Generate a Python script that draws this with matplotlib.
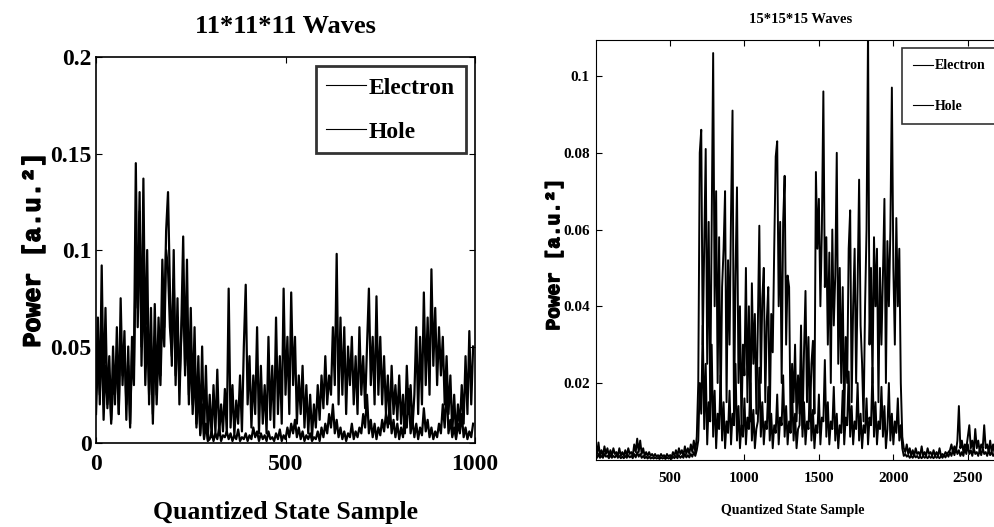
import numpy as np
import matplotlib
matplotlib.use("Agg")
import matplotlib.pyplot as plt
import matplotlib.patheffects as pe

# ---- left panel: 11*11*11 waves, one value every 5 samples (units of 1e-3 a.u.^2)
left_step = 5
left_electron = [
    30, 65, 20, 92, 25, 70, 18, 45, 12, 50, 20, 60, 15, 75, 30, 58, 12, 50, 8, 55,
    40, 145, 60, 120, 50, 137, 45, 100, 20, 70, 15, 72, 25, 65, 35, 95, 60, 110, 130, 80,
    40, 100, 30, 75, 20, 60, 107, 40, 95, 25, 70, 20, 60, 10, 45, 5, 50, 3, 40, 2,
    25, 3, 30, 5, 38, 4, 20, 6, 28, 5, 80, 8, 30, 4, 22, 10, 35, 6, 50, 82,
    20, 45, 8, 35, 15, 60, 5, 40, 10, 30, 5, 55, 12, 40, 8, 65, 15, 45, 10, 80,
    25, 55, 15, 78, 30, 55, 10, 35, 15, 40, 8, 30, 5, 25, 3, 20, 8, 30, 12, 35,
    18, 45, 20, 35, 25, 60, 30, 98, 20, 65, 25, 60, 15, 50, 30, 55, 20, 45, 15, 60,
    25, 45, 18, 50, 80, 30, 55, 20, 76, 25, 55, 20, 45, 15, 35, 10, 40, 15, 30, 12,
    35, 10, 25, 5, 40, 15, 30, 8, 25, 60, 15, 55, 20, 78, 30, 65, 25, 90, 40, 70,
    30, 60, 35, 55, 20, 45, 15, 35, 5, 25, 3, 20, 8, 30, 10, 45, 15, 58, 20, 50,
]
left_hole = [
    15, 45, 25, 55, 12, 40, 20, 35, 10, 30, 25, 45, 15, 55, 35, 50, 20, 40, 10, 48,
    30, 100, 70, 130, 40, 90, 30, 60, 25, 50, 10, 55, 20, 50, 30, 70, 50, 100, 90, 60,
    45, 85, 35, 65, 30, 55, 80, 35, 65, 20, 50, 15, 40, 8, 30, 4, 20, 2, 10, 1,
    2, 6, 1, 5, 2, 8, 1, 4, 3, 6, 2, 5, 1, 4, 2, 7, 1, 3, 2, 5,
    1, 4, 2, 8, 3, 6, 1, 5, 2, 4, 1, 6, 2, 3, 1, 5, 2, 7, 1, 4,
    2, 8, 3, 10, 5, 12, 3, 8, 2, 6, 1, 4, 2, 5, 1, 3, 2, 6, 1, 8,
    3, 10, 5, 15, 8, 20, 5, 12, 3, 8, 2, 6, 1, 5, 3, 10, 2, 6, 3, 8,
    5, 15, 8, 25, 5, 12, 3, 10, 2, 8, 4, 12, 6, 15, 8, 20, 5, 12, 3, 10,
    2, 8, 3, 15, 8, 28, 5, 12, 3, 10, 2, 8, 4, 18, 6, 12, 3, 8, 2, 6,
    3, 10, 5, 20, 8, 30, 5, 12, 3, 8, 2, 10, 5, 15, 3, 8, 2, 6, 3, 10,
]

# ---- right panel: 15*15*15 waves, one value every 10 samples, in three stretches
right_step = 10
lead_start, burst_start, tail_start = 0, 690, 2060
electron_lead = [
    3, 1.5, 4.5, 1, 2.5, 1, 3.5, 1.5, 3, 1, 2.5, 1, 3, 1.5, 2, 1, 3, 1, 2, 1,
    2.5, 1, 3, 1.5, 2, 1, 4, 2, 5.5, 2, 5, 1.5, 3, 1, 2, 1, 2, 1, 1.5, 0.8,
    1.5, 0.8, 1.2, 0.7, 1.5, 0.8, 1.2, 0.6, 1.5, 0.8, 1.2, 0.6, 2, 1, 2.5, 1, 3, 1.5, 2.5, 1,
    3.5, 1.5, 3, 1.5, 4, 2, 5, 2, 6,
]
electron_burst = [
    20, 80, 86, 30, 55, 81, 25, 62, 15, 60, 106, 40, 70, 20, 58, 12, 45, 55, 70, 15,
    52, 30, 64, 91, 10, 48, 71, 20, 40, 8, 30, 22, 50, 15, 40, 10, 46, 25, 38, 12,
    35, 61, 20, 42, 50, 15, 36, 45, 10, 38, 28, 55, 79, 83, 40, 62, 20, 62, 74, 30,
    48, 45, 8, 25, 15, 30, 10, 22, 12, 35, 8, 28, 44, 15, 32, 10, 25, 31, 12, 75,
    55, 68, 40, 60, 96, 45, 58, 30, 54, 20, 60, 35, 48, 80, 25, 50, 20, 45, 10, 32,
    20, 55, 65, 15, 40, 55, 20, 45, 73, 35, 25, 10, 40, 60, 112, 30, 50, 20, 58, 40,
    55, 15, 50, 30, 48, 68, 20, 57, 40, 60, 97, 50, 30, 63, 40, 55, 20,
]
electron_tail = [
    6, 3, 2, 4, 1.5, 3, 1, 2.5, 1, 3, 1.5, 2, 1, 3.5, 1, 2, 1, 3, 1.5, 2,
    1, 2.5, 1, 2, 1, 3, 1, 1.5, 1, 2, 1.5, 2, 2.5, 4, 2, 3.5, 2, 5, 14, 3,
    5, 2, 4, 3, 6, 9, 3, 5, 2, 8, 3, 5, 2, 4, 3, 9, 3, 4, 2, 5,
    2, 4, 1.5, 3, 2, 4, 2, 3, 2, 3,
]
hole_lead = [
    1, 0.5, 1.5, 0.5, 1, 0.5, 1.5, 0.8, 1, 0.4, 1.2, 0.5, 1, 0.6, 1.3, 0.5, 1, 0.4, 0.8, 0.4,
    1, 0.5, 1.2, 0.6, 1, 0.4, 1.5, 0.6, 2, 0.8, 1.5, 0.5, 1, 0.4, 0.8, 0.3, 0.8, 0.3, 0.6, 0.3,
    0.6, 0.3, 0.5, 0.2, 0.6, 0.3, 0.5, 0.2, 0.6, 0.3, 0.5, 0.2, 0.8, 0.4, 1, 0.4, 1.2, 0.5, 1, 0.5,
    1.5, 0.6, 1.2, 0.6, 1.5, 0.8, 2, 1, 2.5,
]
hole_burst = [
    5, 20, 12, 35, 8, 25, 4, 15, 10, 30, 6, 18, 3, 12, 8, 22, 5, 15, 3, 10,
    7, 18, 4, 12, 9, 25, 5, 14, 3, 9, 6, 16, 4, 11, 8, 20, 5, 13, 3, 8,
    10, 24, 6, 15, 4, 10, 8, 19, 5, 12, 3, 9, 7, 17, 4, 11, 9, 22, 6, 14,
    4, 10, 7, 18, 5, 12, 3, 8, 9, 21, 6, 15, 4, 10, 8, 20, 5, 13, 3, 9,
    7, 17, 4, 11, 10, 26, 6, 15, 4, 10, 8, 19, 5, 12, 3, 9, 7, 18, 4, 11,
    9, 23, 6, 14, 4, 10, 8, 20, 5, 12, 3, 9, 7, 16, 4, 11, 9, 24, 6, 15,
    4, 10, 8, 19, 6, 14, 3, 8, 20, 5, 12, 4, 10, 7, 16, 5, 9,
]
hole_tail = [
    3, 1, 1.5, 0.8, 1.2, 0.5, 1, 0.5, 1.2, 0.6, 1, 0.4, 0.8, 0.4, 1, 0.5, 0.8, 0.4, 1, 0.5,
    0.8, 0.4, 1, 0.5, 0.8, 0.4, 1, 0.5, 1.2, 0.6, 1.5, 0.8, 2, 1, 2.5, 1.2, 3, 1.5, 2.5, 1,
    2, 1, 3, 1.5, 4, 1.5, 2.5, 1, 3, 1.5, 2, 1, 2.5, 1.2, 3, 1.5, 2, 1, 2.5, 1.2,
    2, 1, 1.5, 0.8, 2, 1, 1.5, 0.8, 2, 1,
]


def stretch(start, vals, step):
    return start + np.arange(len(vals)) * step, np.array(vals) * 1e-3


def join(lead, burst, tail):
    parts = [stretch(lead_start, lead, right_step),
             stretch(burst_start, burst, right_step),
             stretch(tail_start, tail, right_step)]
    return np.concatenate([p[0] for p in parts]), np.concatenate([p[1] for p in parts])


plt.rcParams["font.family"] = "Liberation Serif"
plt.rcParams["font.weight"] = "bold"

heavy = [pe.withStroke(linewidth=1.0, foreground="black")]

fig = plt.figure(figsize=(9.95, 5.27), dpi=100)

# left axes
ax1 = fig.add_axes([0.0965, 0.1594, 0.3809, 0.7324])
ax1.plot(np.arange(len(left_electron)) * left_step, np.array(left_electron) * 1e-3,
         color="black", lw=1.6, label="Electron")
ax1.plot(np.arange(len(left_hole)) * left_step, np.array(left_hole) * 1e-3,
         color="black", lw=1.6, label="Hole")
ax1.set_xlim(0, 1000)
ax1.set_ylim(0, 0.2)
ax1.set_xticks([0, 500, 1000])
ax1.set_yticks([0, 0.05, 0.1, 0.15, 0.2])
ax1.set_yticklabels(["0", "0.05", "0.1", "0.15", "0.2"])
ax1.tick_params(direction="in", top=True, right=True, labelsize=17, length=4, pad=3)
ax1.tick_params(axis="x", pad=8)
for s in ax1.spines.values():
    s.set_linewidth(1.2)
ax1.set_title("11*11*11 Waves", fontsize=19, fontweight="bold", pad=17)
ax1.set_xlabel("Quantized State Sample", fontsize=18.5, fontweight="bold")
ax1.xaxis.set_label_coords(0.5, -0.15)
ax1.set_ylabel("Power [a.u.²]", fontsize=18, fontweight="bold", family="Liberation Mono",
               path_effects=heavy)
ax1.yaxis.set_label_coords(-0.135, 0.5)
leg1 = ax1.legend(loc="upper right", fontsize=17, fancybox=False, edgecolor="black",
                  handlelength=1.7, handletextpad=0.1, labelspacing=0.95,
                  borderaxespad=0.4, borderpad=0.45)
leg1.get_frame().set_linewidth(2)
for ln in leg1.get_lines():
    ln.set_linewidth(0.8)

# right axes
ax2 = fig.add_axes([0.5985, 0.1276, 0.4116, 0.7965])
xe, ye = join(electron_lead, electron_burst, electron_tail)
xh, yh = join(hole_lead, hole_burst, hole_tail)
ax2.plot(xe, ye, color="black", lw=1.4, label="Electron")
ax2.plot(xh, yh, color="black", lw=1.4, label="Hole")
ax2.set_xlim(0, 2750)
ax2.set_ylim(0, 0.1094)
ax2.set_xticks([500, 1000, 1500, 2000, 2500])
ax2.set_yticks([0.02, 0.04, 0.06, 0.08, 0.1])
ax2.set_yticklabels(["0.02", "0.04", "0.06", "0.08", "0.1"])
ax2.tick_params(direction="in", top=True, right=True, labelsize=11, length=4, pad=4)
ax2.tick_params(axis="x", pad=9)
ax2.set_title("15*15*15 Waves", fontsize=10.5, fontweight="bold", pad=12)
ax2.set_xlabel("Quantized State Sample", fontsize=10, fontweight="bold")
ax2.xaxis.set_label_coords(0.482, -0.105)
ax2.set_ylabel("Power [a.u.²]", fontsize=14, fontweight="bold", family="Liberation Mono",
               path_effects=heavy)
ax2.yaxis.set_label_coords(-0.079, 0.49)
leg2 = ax2.legend(loc="upper right", fontsize=10, fancybox=False, edgecolor="black",
                  handlelength=1.5, handletextpad=0.1, labelspacing=2.0,
                  borderaxespad=0.6, borderpad=0.8)
leg2.get_frame().set_linewidth(1.2)
for ln in leg2.get_lines():
    ln.set_linewidth(0.8)

fig.savefig("out.png", dpi=100)
